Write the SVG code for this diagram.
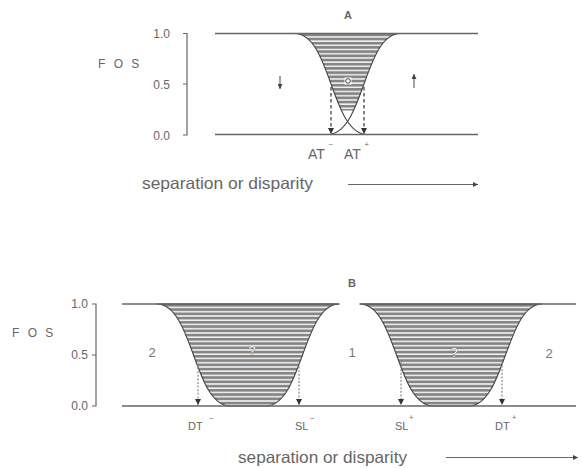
<svg xmlns="http://www.w3.org/2000/svg" width="582" height="468" viewBox="0 0 582 468">
<style>
text{font-family:"Liberation Sans",Arial,sans-serif;fill:#666}
.ax{stroke:#666;stroke-width:1.2;fill:none}
.base{stroke:#666;stroke-width:1.3;fill:none}
.curve{stroke:#444;stroke-width:1.1;fill:none}
.tick{font-size:12px;text-anchor:end}
.fos{font-size:12px;letter-spacing:2.5px}
.dashA{stroke:#444;stroke-width:1.3;stroke-dasharray:3.5 2.5;fill:none}
.dashB{stroke:#888;stroke-width:1.2;stroke-dasharray:2 1.6;fill:none}
.sep{font-size:16.5px}
.lbl{font-size:11px}
.sup{font-size:7.5px}
.at{font-size:14px}
.num{font-size:13px;text-anchor:middle;fill:#777}
.q{font-size:13px;text-anchor:middle;fill:#fff;stroke:#555;stroke-width:0.6;paint-order:stroke}
</style>
<defs>
<pattern id="stripesA" patternUnits="userSpaceOnUse" x="0" y="33.5" width="10" height="4.2">
<rect width="10" height="4.2" fill="#f2f2f2"/><rect width="10" height="2.7" fill="#858585"/>
</pattern>
<pattern id="stripesB" patternUnits="userSpaceOnUse" x="0" y="304" width="10" height="4.25">
<rect width="10" height="4.25" fill="#f2f2f2"/><rect width="10" height="2.7" fill="#858585"/>
</pattern>
<marker id="ah" viewBox="0 0 10 10" refX="10" refY="5" markerWidth="6" markerHeight="6" markerUnits="userSpaceOnUse" orient="auto">
<path d="M0,0 L10,5 L0,10 Z" fill="#333"/>
</marker>
<marker id="ahs" viewBox="0 0 10 10" refX="10" refY="5" markerWidth="5" markerHeight="5" markerUnits="userSpaceOnUse" orient="auto">
<path d="M0,0 L10,5 L0,10 Z" fill="#444"/>
</marker>
<clipPath id="cA1"><path d="M294.7,33.5 C331,33.5 331,134.5 367.3,134.5 L430,134.5 L430,33.5 Z"/></clipPath>
<clipPath id="cA2"><path d="M400.3,33.5 C364,33.5 364,134.5 327.7,134.5 L260,134.5 L260,33.5 Z"/></clipPath>
</defs>

<g id="panelA">
<text x="348" y="19" font-size="11" font-weight="bold" text-anchor="middle" fill="#555">A</text>
<g id="axisA">
<path class="ax" d="M183,33.5 H187 V135 H183 M183,84 H187"/>
<text class="tick" x="170" y="38">1.0</text>
<text class="tick" x="170" y="89">0.5</text>
<text class="tick" x="170" y="140">0.0</text>
<text class="fos" x="98" y="68">F O S</text>
</g>
<g id="funnelA">
<g clip-path="url(#cA1)"><g clip-path="url(#cA2)">
<rect x="280" y="33.5" width="140" height="77" fill="url(#stripesA)"/>
</g></g>
<path class="curve" d="M294.7,33.5 C331,33.5 331,134.5 367.3,134.5"/>
<path class="curve" d="M400.3,33.5 C364,33.5 364,134.5 327.7,134.5"/>
<rect x="344.5" y="77.5" width="7" height="7" fill="#fff"/>
<circle cx="348" cy="81" r="2.3" fill="#fff" stroke="#444" stroke-width="1"/>
</g>
<path class="base" d="M215,33.5 H478 M215,134.5 H478"/>
<g id="connectorsA">
<path class="dashA" d="M331,87 V134" marker-end="url(#ah)"/>
<path class="dashA" d="M364,87 V134" marker-end="url(#ah)"/>
<path class="ax" d="M280,76 V89" marker-end="url(#ahs)"/>
<path class="ax" d="M414,88 V74" marker-end="url(#ahs)"/>
<path class="ax" d="M348,184.5 H478" marker-end="url(#ahs)"/>
</g>
<text class="at" x="308" y="159">AT</text>
<text class="sup" x="328.5" y="147">−</text>
<text class="at" x="344" y="159">AT</text>
<text class="sup" x="364.5" y="147">+</text>
<text class="sep" x="142" y="189" textLength="171" lengthAdjust="spacingAndGlyphs">separation or disparity</text>
</g>

<g id="panelB">
<text x="352" y="287" font-size="11" font-weight="bold" text-anchor="middle" fill="#555">B</text>
<g id="axisB">
<path class="ax" d="M92,304 H96 V406 H92 M92,355 H96"/>
<text class="tick" x="88" y="308">1.0</text>
<text class="tick" x="88" y="359">0.5</text>
<text class="tick" x="88" y="410">0.0</text>
<text class="fos" x="12" y="337">F O S</text>
</g>
<g id="funnelB1">
<path class="curve" d="M156.65,304 C193.5,304 193.5,406 230.35,406 L265.65,406 C302.5,406 302.5,304 339.35,304 Z" style="fill:url(#stripesB)"/>
<text class="q" x="252" y="355">?</text>
</g>
<g id="funnelB2">
<path class="curve" d="M359.65,304 C396.5,304 396.5,406 433.35,406 L468.65,406 C505.5,406 505.5,304 542.35,304 Z" style="fill:url(#stripesB)"/>
<text class="q" x="454" y="357">?</text>
</g>
<path class="base" d="M122,304 H339.35 M359.65,304 H576 M122,406 H576"/>
<g id="connectorsB">
<path class="dashB" d="M198,364 V405" marker-end="url(#ah)"/>
<path class="dashB" d="M299,363 V405" marker-end="url(#ah)"/>
<path class="dashB" d="M401,362 V405" marker-end="url(#ah)"/>
<path class="dashB" d="M502,362 V405" marker-end="url(#ah)"/>
<path class="ax" d="M446,457.5 H578" marker-end="url(#ahs)"/>
</g>
<text class="num" x="152" y="357">2</text>
<text class="num" x="352" y="357">1</text>
<text class="num" x="549" y="358">2</text>
<text class="lbl" x="188" y="430">DT</text>
<text class="sup" x="209" y="421">−</text>
<text class="lbl" x="295" y="430">SL</text>
<text class="sup" x="310" y="421">−</text>
<text class="lbl" x="395" y="430">SL</text>
<text class="sup" x="409" y="420">+</text>
<text class="lbl" x="495" y="430">DT</text>
<text class="sup" x="512" y="420">+</text>
<text class="sep" x="238" y="463" textLength="169" lengthAdjust="spacingAndGlyphs">separation or disparity</text>
</g>
</svg>
